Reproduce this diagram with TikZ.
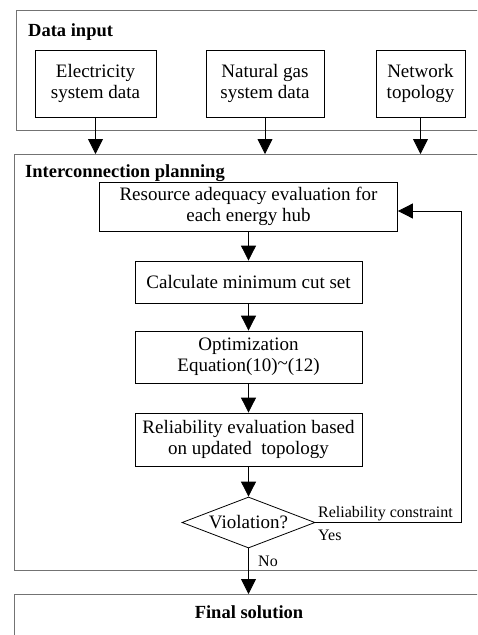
\documentclass[tikz,border=0pt]{standalone}
\usepackage{fontspec}
\setmainfont{Liberation Serif}
\usetikzlibrary{arrows.meta,shapes.geometric}
\begin{document}
\begin{tikzpicture}[x=1pt,y=-1pt,
  panel/.style={draw=black!55,line width=0.9pt},
  proc/.style={draw=black,line width=0.8pt,align=center,inner sep=0pt,font=\fontsize{19}{21}\selectfont},
  flow/.style={draw=black,line width=0.8pt,-{Triangle[width=15pt,length=15pt]}},
  lbl/.style={font=\fontsize{18.5}{21}\selectfont,inner sep=0pt},
  small/.style={font=\fontsize{16}{19}\selectfont,inner sep=0pt}]
\useasboundingbox (0,0) rectangle (477,635);
\begin{scope}
\clip (0,0) rectangle (477,635);
% panels
\draw[panel] (16,10) rectangle (490,130);
\draw[panel] (14,154) rectangle (490,570);
\draw[panel] (14,594) rectangle (490,650);
\end{scope}
\node[lbl,anchor=base west,font=\fontsize{18.5}{21}\selectfont\bfseries] (t1) at (28,36) {Data input};
\node[lbl,anchor=base west,font=\fontsize{18.5}{21}\selectfont\bfseries] (t2) at (25,177) {Interconnection planning};
\node[lbl,anchor=base,font=\fontsize{18.5}{21}\selectfont\bfseries] (t3) at (249,618) {Final solution};
\coordinate (p2top) at (0,154);
\coordinate (p3top) at (0,594);
% input boxes
\node[proc,minimum width=121pt,minimum height=67pt] (e) at (95.5,83.5) {Electricity\\system data};
\node[proc,minimum width=118pt,minimum height=67pt] (g) at (265,83.5) {Natural gas\\system data};
\node[proc,minimum width=89pt,minimum height=67pt] (n) at (420.5,83.5) {Network\\topology};
\draw[flow] (e.south) -- (e.south |- p2top);
\draw[flow] (g.south) -- (g.south |- p2top);
\draw[flow] (n.south) -- (n.south |- p2top);
% process chain
\node[proc,minimum width=298pt,minimum height=49pt] (r) at (248.5,206.5) {Resource adequacy evaluation for\\each energy hub};
\node[proc,minimum width=227pt,minimum height=42pt] (c) at (248.5,282) {Calculate minimum cut set};
\node[proc,minimum width=227pt,minimum height=52pt] (o) at (248.5,357) {Optimization\\Equation(10)\raisebox{0.25ex}{\char`~}(12)};
\node[proc,minimum width=227pt,minimum height=53pt] (u) at (248.5,439.5) {Reliability evaluation based\\on updated\ \ topology};
\node[diamond,draw=black,line width=0.8pt,minimum width=133pt,minimum height=51pt,inner sep=0pt,aspect=2.6,font=\fontsize{19}{21}\selectfont] (v) at (248.5,522.5) {Violation?};
\draw[flow] (r.south) -- (c.north);
\draw[flow] (c.south) -- (o.north);
\draw[flow] (o.south) -- (u.north);
\draw[flow] (u.south) -- (v.north);
\draw[flow] (v.south) -- (v.south |- p3top);
\coordinate (k1) at (461,522.5);
\coordinate (k2) at (461,211);
\draw[flow] (v.east) -- (k1) -- (k2) -- (r.east |- k2);
\node[small,anchor=base west] (rc) at (318,517) {Reliability constraint};
\node[small,anchor=base west] (yes) at (318,540) {Yes};
\node[small,anchor=base west] (no) at (258,566) {No};
\end{tikzpicture}
\end{document}
